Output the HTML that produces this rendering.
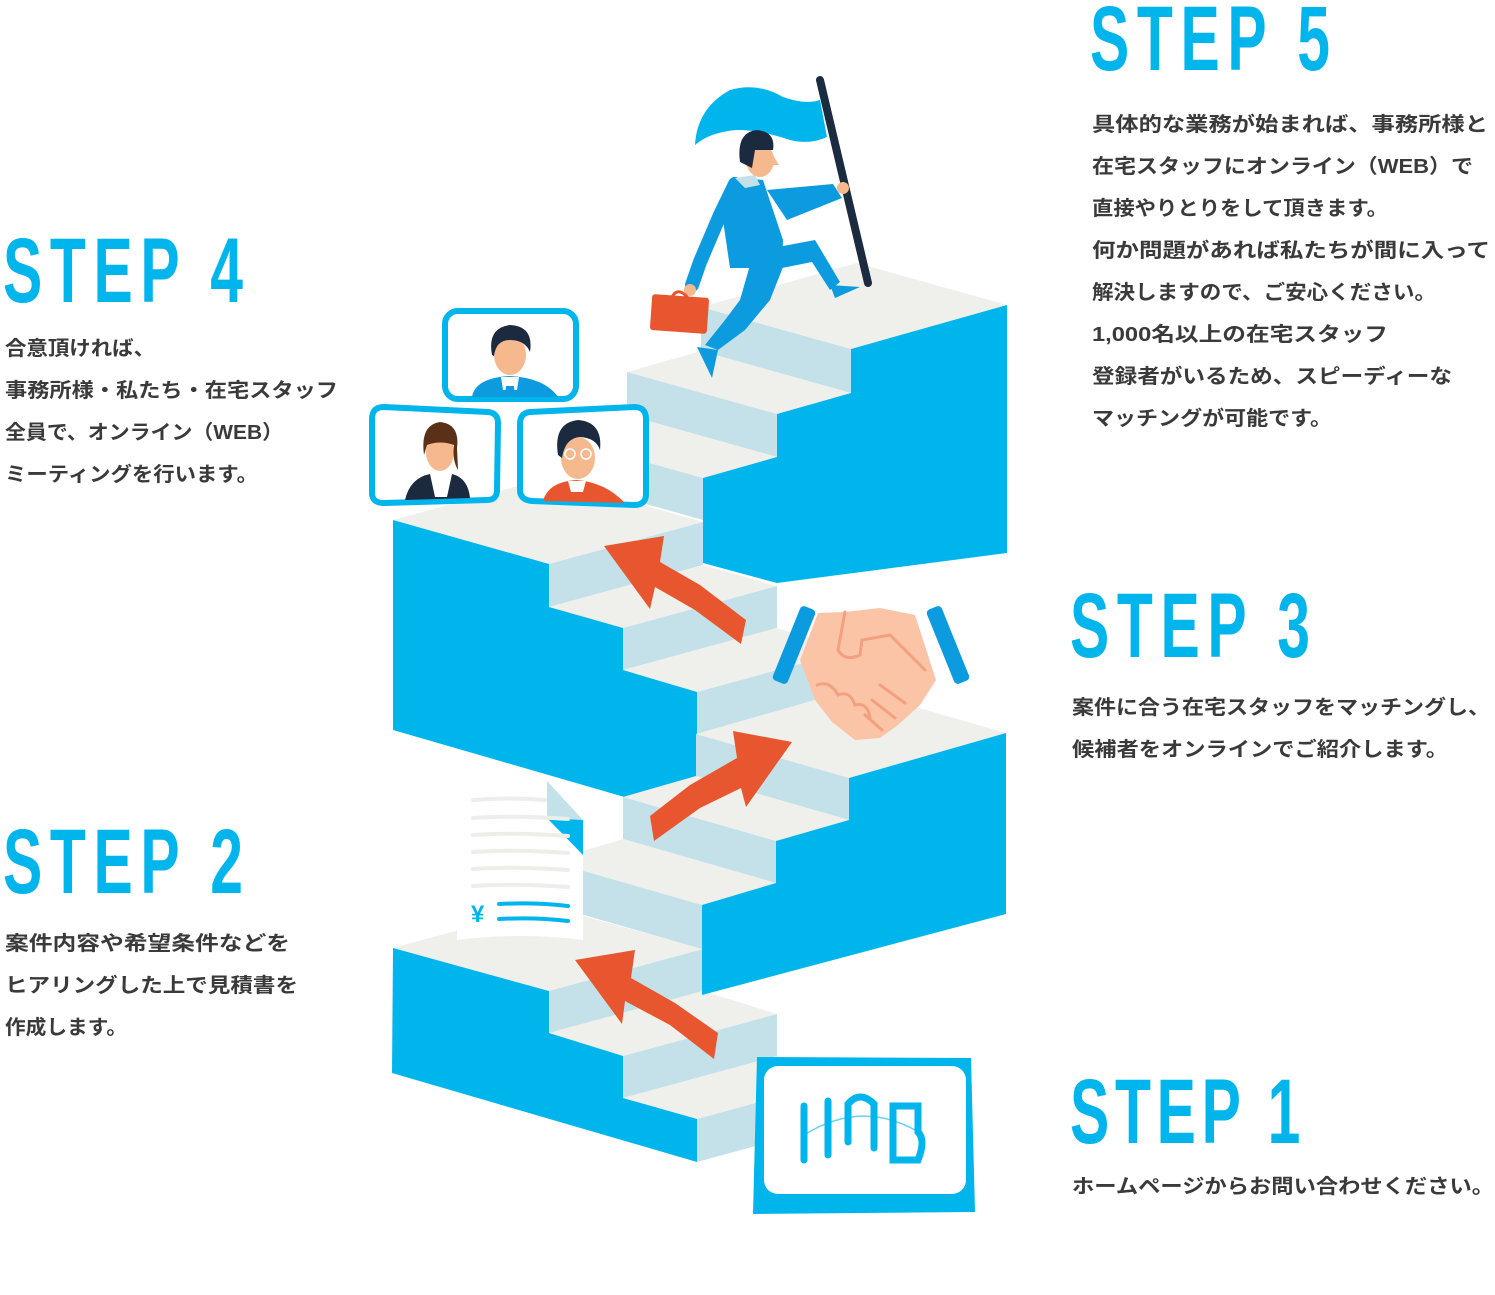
<!DOCTYPE html>
<html><head><meta charset="utf-8"><style>
html,body{margin:0;padding:0;background:#fff;}
svg{display:block;}
.h{font-family:"Liberation Sans",sans-serif;fill:#00b5ec;font-size:92px;font-weight:bold;}
.t{font-family:"Liberation Sans","Noto Sans CJK JP",sans-serif;fill:#3a3a3a;font-size:20px;font-weight:bold;}
</style></head><body>
<svg width="1495" height="1295" viewBox="0 0 1495 1295" xmlns="http://www.w3.org/2000/svg">
<g stroke-linejoin="round">
<polygon fill="#eff0eb" points="393,948 549,991 703,949 547,906"/>
<polygon fill="#c4e1e9" points="549,991 549,1033 703,991 703,949"/>
<polygon fill="#eff0eb" points="549,1033 623,1056 777,1014 703,991"/>
<polygon fill="#c4e1e9" points="623,1056 623,1098 777,1056 777,1014"/>
<polygon fill="#eff0eb" points="623,1098 697,1119 851,1077 777,1056"/>
<polygon fill="#c4e1e9" points="697,1119 697,1162 851,1120 851,1077"/>
<polygon fill="#00b5ec" points="393,948 549,991 549,1033 623,1056 623,1098 697,1119 697,1162 392,1073"/>
<polygon fill="#eff0eb" points="393,520 549,564 703,522 547,478"/>
<polygon fill="#c4e1e9" points="549,564 549,607 703,565 703,522"/>
<polygon fill="#eff0eb" points="549,607 623,628 777,586 703,565"/>
<polygon fill="#c4e1e9" points="623,628 623,670 777,628 777,586"/>
<polygon fill="#eff0eb" points="623,670 697,692 851,650 777,628"/>
<polygon fill="#c4e1e9" points="697,692 697,734 851,692 851,650"/>
<polygon fill="#00b5ec" points="393,520 549,564 549,607 623,628 623,670 697,692 697,818 393,730"/>
<polygon fill="#eff0eb" points="1006,733 849,778 696,734 853,689"/>
<polygon fill="#c4e1e9" points="849,778 849,820 696,776 696,734"/>
<polygon fill="#eff0eb" points="849,820 776,841 623,797 696,776"/>
<polygon fill="#c4e1e9" points="776,841 776,883 623,839 623,797"/>
<polygon fill="#eff0eb" points="776,883 702,905 549,861 623,839"/>
<polygon fill="#c4e1e9" points="702,905 702,949 549,905 549,861"/>
<polygon fill="#00b5ec" points="1006,733 849,778 849,820 776,841 776,883 702,905 702,995 1006,914"/>
<polygon fill="#eff0eb" points="1007,305 851,349 701,307 857,263"/>
<polygon fill="#c4e1e9" points="851,349 851,393 701,351 701,307"/>
<polygon fill="#eff0eb" points="851,393 777,414 627,372 701,351"/>
<polygon fill="#c4e1e9" points="777,414 777,457 627,415 627,372"/>
<polygon fill="#eff0eb" points="777,457 703,478 553,436 627,415"/>
<polygon fill="#c4e1e9" points="703,478 703,520 553,478 553,436"/>
<polygon fill="#00b5ec" points="1007,305 851,349 851,393 777,414 777,457 703,478 703,563 777,583 1007,553"/>
</g>

<g fill="#e8562f">
<polygon points="604,546 664,536 660,562 700,585 746,620 741,644 695,610 655,587 650,609"/>
<polygon points="792,742 733,731 737,758 690,785 650,816 654,841 700,808 741,788 746,807"/>
<polygon points="575,960 635,950 631,978 675,1003 718,1033 714,1059 670,1025 625,1001 622,1024"/>
</g>

<path d="M457,790 L547,783 L583,820 L583,940 Q520,932 457,940 Z" fill="#fff"/>
<polygon points="547,781 583,820 547,818" fill="#c4e1e9"/>
<polygon points="547,818 583,820 583,855" fill="#00b5ec"/>
<g stroke="#eceee9" stroke-width="4" stroke-linecap="round" fill="none">
<path d="M473,800 Q510,797 545,800"/><path d="M473,818 Q515,815 568,819"/><path d="M473,835 Q515,832 568,836"/><path d="M473,852 Q515,849 568,853"/><path d="M473,869 Q515,866 568,870"/><path d="M473,886 Q515,883 568,887"/>
</g>
<text x="471" y="922" font-family="Liberation Sans,sans-serif" font-weight="bold" font-size="24" fill="#00b5ec">¥</text>
<g stroke="#00b5ec" stroke-width="4" stroke-linecap="round"><path d="M499,904 Q535,902 568,906"/><path d="M499,919 Q535,917 568,921"/></g>

<g>
<rect x="786" y="605" width="16" height="80" rx="4" fill="#0d9be0" transform="rotate(22 794 645)"/>
<rect x="940" y="605" width="16" height="80" rx="4" fill="#0d9be0" transform="rotate(-22 948 645)"/>
<path d="M800,660 L818,613 L845,612 L880,608 L915,615 L936,680 L920,705 L898,725 L880,738 L855,740 L832,722 L815,700 Z" fill="#fcc4a6"/>
<g stroke="#f2a07f" stroke-width="3" fill="none" stroke-linecap="round">
<path d="M845,612 L838,650 Q845,662 860,655 L862,640 L890,635 L925,670"/>
<path d="M817,685 Q830,680 838,695 Q850,690 855,705 Q868,702 870,718"/>
<path d="M880,685 L905,703"/><path d="M872,700 L895,718"/><path d="M865,715 L882,730"/>
</g>
</g>

<path d="M757,1057 L971,1058 L975,1212 L753,1214 Z" fill="#00b5ec"/>
<rect x="764" y="1066" width="202" height="128" rx="14" fill="#fff"/>
<g stroke="#00b5ec" stroke-width="7" stroke-linecap="round" fill="none">
<path d="M804,1106 L804,1160"/><path d="M828,1101 L828,1155"/>
<path d="M848,1142 L848,1104 Q860,1090 874,1104 L874,1148"/>
<path d="M893,1106 L918,1106 L918,1132 Q926,1140 918,1160 L893,1160 Z"/>
</g>
<path d="M804,1135 Q860,1100 915,1130" stroke="#00b5ec" stroke-width="1.5" fill="none" opacity="0.6"/>

<g stroke="#00b5ec" stroke-width="6" fill="#fff">
<rect x="445" y="311" width="131" height="88" rx="13"/>
<path d="M384,407 L488,412 Q498,413 498,423 L497,490 Q497,500 487,500 L384,503 Q372,503 372,493 L372,419 Q372,407 384,407 Z"/>
<path d="M530,412 L634,407 Q646,407 646,419 L646,494 Q646,505 634,505 L532,501 Q520,500 520,490 L520,424 Q520,413 530,412 Z"/>
</g>
<path d="M472,397 Q475,378 510,376 Q545,378 558,397 Z" fill="#0d9be0"/>
<path d="M501,377 L519,377 L517,390 L503,390 Z" fill="#fff"/>
<path d="M506,386 L514,386 L515,397 L505,397 Z" fill="#0d9be0"/>
<ellipse cx="510" cy="355" rx="16" ry="20" fill="#f6b98e"/>
<path d="M492,355 Q487,328 510,325 Q534,326 530,352 Q525,340 510,340 Q496,340 494,356 Z" fill="#1c2a3f"/>
<path d="M405,500 Q410,478 430,474 L452,474 Q468,478 470,498 Z" fill="#1c2a3f"/>
<path d="M430,474 L452,474 L447,497 L435,497 Z" fill="#fff"/>
<ellipse cx="440" cy="452" rx="14" ry="19" fill="#f6b98e"/>
<path d="M424,455 Q420,425 440,422 Q460,424 457,448 L458,470 Q452,460 454,445 Q440,440 427,445 Z" fill="#5a3018"/>
<path d="M543,501 Q548,482 576,480 Q605,482 625,503 Z" fill="#e8562f"/>
<path d="M568,481 L586,481 L583,492 L571,492 Z" fill="#fff"/>
<ellipse cx="578" cy="458" rx="17" ry="21" fill="#f6b98e"/>
<path d="M558,455 Q553,423 578,420 Q603,422 600,450 Q596,438 580,437 Q565,438 562,458 Z" fill="#1c2a3f"/>
<g stroke="#fff" stroke-width="1.5" fill="none"><circle cx="570" cy="454" r="5"/><circle cx="586" cy="454" r="5"/></g>

<path d="M695,145 Q697,108 730,90 Q757,82 783,97 Q805,105 820,100 L827,137 Q810,145 790,140 Q760,130 737,130 Q710,132 695,145 Z" fill="#00b5ec"/>
<line x1="820" y1="80" x2="868" y2="283" stroke="#1b2b40" stroke-width="8" stroke-linecap="round"/>
<path d="M767,190 L833,184 L842,198 L787,220 Z" fill="#0d9be0"/>
<circle cx="843" cy="188" r="6" fill="#f6b98e"/>
<path d="M735,184 L720,215 L700,262 L692,285" stroke="#0d9be0" stroke-width="14" fill="none" stroke-linecap="round"/>
<circle cx="690" cy="290" r="6" fill="#f6b98e"/>
<rect x="651" y="296" width="57" height="36" rx="3" fill="#e8562f" transform="rotate(4 680 314)"/>
<path d="M672,297 Q678,286 688,298" stroke="#e8562f" stroke-width="3" fill="none"/>
<path d="M750,265 L785,262 L770,300 L745,330 L718,350 L705,345 L725,320 L740,300 Z" fill="#0d9be0"/>
<path d="M762,250 L815,240 L840,282 L830,290 L812,262 L772,270 Z" fill="#0d9be0"/>
<path d="M830,285 L860,287 L835,298 Z" fill="#0d9be0"/>
<path d="M697,347 L718,350 L712,378 Z" fill="#0d9be0"/>
<path d="M733,177 L763,180 L783,240 L782,268 L730,268 L723,220 Z" fill="#0d9be0"/>
<path d="M735,178 L755,175 L760,185 L745,188 Z" fill="#c4e1e9"/>
<ellipse cx="760" cy="160" rx="14" ry="17" fill="#f6b98e"/>
<path d="M740,162 Q736,132 757,130 Q776,132 773,150 L755,150 L752,168 Z" fill="#1c2a3f"/>
<polygon points="773,155 779,165 771,165" fill="#f6b98e"/>

<text class="h" transform="translate(1090,70) scale(0.64,1)" textLength="375" lengthAdjust="spacing">STEP 5</text>
<text class="h" transform="translate(3,302) scale(0.64,1)" textLength="375" lengthAdjust="spacing">STEP 4</text>
<text class="h" transform="translate(1070,657) scale(0.64,1)" textLength="375" lengthAdjust="spacing">STEP 3</text>
<text class="h" transform="translate(3,893) scale(0.64,1)" textLength="375" lengthAdjust="spacing">STEP 2</text>
<text class="h" transform="translate(1070,1143) scale(0.64,1)" textLength="360" lengthAdjust="spacing">STEP 1</text>

<text class="t" x="1092" y="131" textLength="396" lengthAdjust="spacingAndGlyphs">具体的な業務が始まれば、事務所様と</text>
<text class="t" x="1092" y="173" textLength="381" lengthAdjust="spacingAndGlyphs">在宅スタッフにオンライン（WEB）で</text>
<text class="t" x="1092" y="215" textLength="296" lengthAdjust="spacingAndGlyphs">直接やりとりをして頂きます。</text>
<text class="t" x="1092" y="257" textLength="398" lengthAdjust="spacingAndGlyphs">何か問題があれば私たちが間に入って</text>
<text class="t" x="1092" y="299" textLength="344" lengthAdjust="spacingAndGlyphs">解決しますので、ご安心ください。</text>
<text class="t" x="1092" y="341" textLength="296" lengthAdjust="spacingAndGlyphs">1,000名以上の在宅スタッフ</text>
<text class="t" x="1092" y="383" textLength="360" lengthAdjust="spacingAndGlyphs">登録者がいるため、スピーディーな</text>
<text class="t" x="1092" y="425" textLength="240" lengthAdjust="spacingAndGlyphs">マッチングが可能です。</text>
<text class="t" x="5" y="355" textLength="150" lengthAdjust="spacingAndGlyphs">合意頂ければ、</text>
<text class="t" x="5" y="397" textLength="333" lengthAdjust="spacingAndGlyphs">事務所様・私たち・在宅スタッフ</text>
<text class="t" x="5" y="439" textLength="278" lengthAdjust="spacingAndGlyphs">全員で、オンライン（WEB）</text>
<text class="t" x="5" y="481" textLength="253" lengthAdjust="spacingAndGlyphs">ミーティングを行います。</text>
<text class="t" x="1072" y="714" textLength="418" lengthAdjust="spacingAndGlyphs">案件に合う在宅スタッフをマッチングし、</text>
<text class="t" x="1072" y="756" textLength="376" lengthAdjust="spacingAndGlyphs">候補者をオンラインでご紹介します。</text>
<text class="t" x="5" y="950" textLength="285" lengthAdjust="spacingAndGlyphs">案件内容や希望条件などを</text>
<text class="t" x="5" y="992" textLength="293" lengthAdjust="spacingAndGlyphs">ヒアリングした上で見積書を</text>
<text class="t" x="5" y="1034" textLength="122" lengthAdjust="spacingAndGlyphs">作成します。</text>
<text class="t" x="1072" y="1193" textLength="422" lengthAdjust="spacingAndGlyphs">ホームページからお問い合わせください。</text>
</svg>
</body></html>
